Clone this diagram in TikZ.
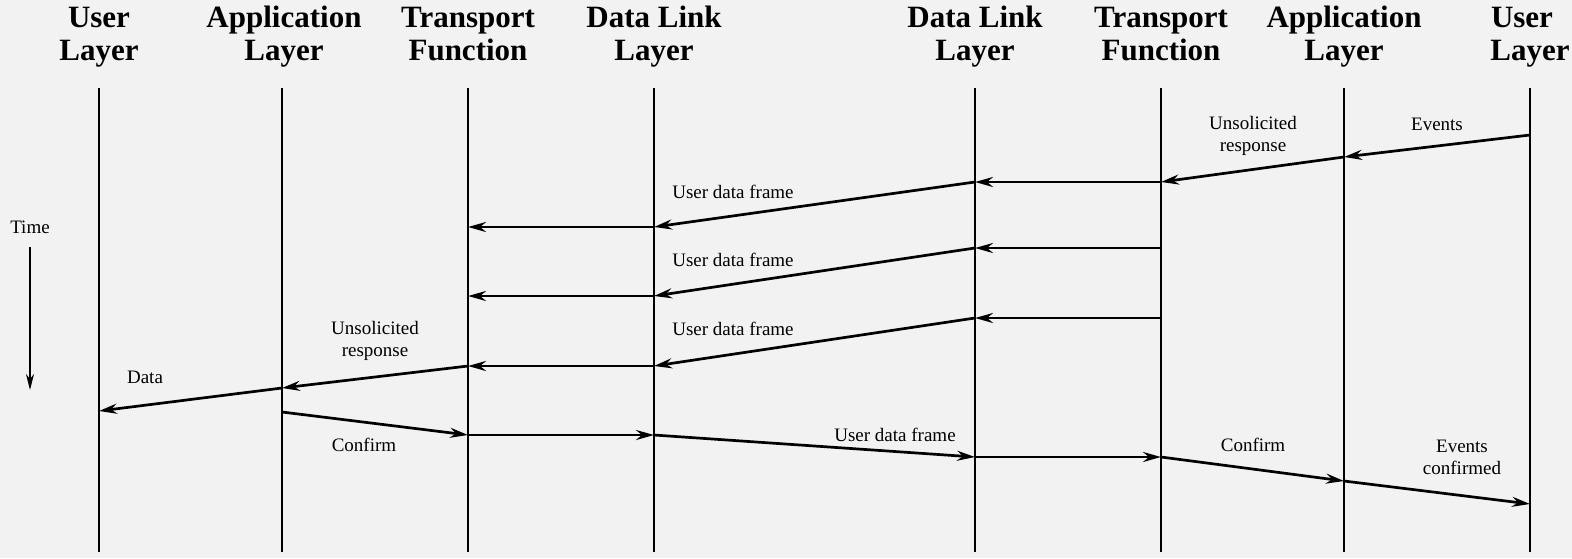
\documentclass[tikz,border=0pt]{standalone}
\usepackage{fontspec}
\setmainfont{Liberation Serif}
\usetikzlibrary{arrows.meta}
\definecolor{bg}{HTML}{F2F2F2}
\tikzset{
  hdr/.style={anchor=base, inner sep=0pt, font=\fontsize{15.5}{16}\selectfont\bfseries},
  lbl/.style={inner sep=0pt, align=center, font=\fontsize{9.5}{11}\selectfont},
  lane/.style={line width=1.35pt},
  msg/.style={line width=1.35pt, -{Stealth[length=9pt,width=5pt,inset=3pt]}},
  timearrow/.style={line width=0.9pt, -{Stealth[length=8pt,width=4pt,inset=2.5pt]}}
}
\begin{document}
\begin{tikzpicture}[x=0.5pt,y=-0.5pt]
\fill[bg] (0,0) rectangle (1572,558);
\clip (0,0) rectangle (1572,558);
\useasboundingbox (0,0) rectangle (1572,558);
% headers
\node[hdr] (h1a) at (99,27) {User};
\node[hdr] (h1b) at (99,60) {Layer};
\node[hdr] (h2a) at (284,27) {Application};
\node[hdr] (h2b) at (284,60) {Layer};
\node[hdr] (h3a) at (468,27) {Transport};
\node[hdr] (h3b) at (468,60) {Function};
\node[hdr] (h4a) at (654,27) {Data Link};
\node[hdr] (h4b) at (654,60) {Layer};
\node[hdr] (h5a) at (975,27) {Data Link};
\node[hdr] (h5b) at (975,60) {Layer};
\node[hdr] (h6a) at (1161,27) {Transport};
\node[hdr] (h6b) at (1161,60) {Function};
\node[hdr] (h7a) at (1344,27) {Application};
\node[hdr] (h7b) at (1344,60) {Layer};
\node[hdr] (h8a) at (1522,27) {User};
\node[hdr] (h8b) at (1530,60) {Layer};
% lanes
\foreach \n/\x in {u1/99,a1/282,t1/468,d1/654,d2/975,t2/1161,a2/1344,u2/1530}{
  \coordinate (\n top) at (\x,88);
  \coordinate (\n bot) at (\x,552);
  \draw[lane] (\n top) -- (\n bot);
}
% event points
\coordinate (p1) at (1530,135);
\coordinate (p2) at (1344,157);
\coordinate (p3) at (1161,182);
\coordinate (p4) at (975,182);
\coordinate (p5) at (654,227);
\coordinate (p6) at (468,227);
\coordinate (q1) at (1161,248);
\coordinate (q2) at (975,248);
\coordinate (q3) at (654,296);
\coordinate (q4) at (468,296);
\coordinate (r1) at (1161,318);
\coordinate (r2) at (975,318);
\coordinate (r3) at (654,366);
\coordinate (r4) at (468,366);
\coordinate (r5) at (282,388);
\coordinate (r6) at (99,411);
\coordinate (s1) at (282,412);
\coordinate (s2) at (468,435);
\coordinate (s3) at (654,435);
\coordinate (s4) at (975,457);
\coordinate (s5) at (1161,457);
\coordinate (s6) at (1344,481);
\coordinate (s7) at (1530,504);
% messages
\draw[msg] (p1) -- (p2);
\draw[msg] (p2) -- (p3);
\draw[msg] (p3) -- (p4);
\draw[msg] (p4) -- (p5);
\draw[msg] (p5) -- (p6);
\draw[msg] (q1) -- (q2);
\draw[msg] (q2) -- (q3);
\draw[msg] (q3) -- (q4);
\draw[msg] (r1) -- (r2);
\draw[msg] (r2) -- (r3);
\draw[msg] (r3) -- (r4);
\draw[msg] (r4) -- (r5);
\draw[msg] (r5) -- (r6);
\draw[msg] (s1) -- (s2);
\draw[msg] (s2) -- (s3);
\draw[msg] (s3) -- (s4);
\draw[msg] (s4) -- (s5);
\draw[msg] (s5) -- (s6);
\draw[msg] (s6) -- (s7);
% labels
\node[lbl] (l1) at (1437,124) {Events};
\node[lbl] (l2) at (1253,136) {Unsolicited\\response};
\node[lbl] (l3) at (733,192) {User data frame};
\node[lbl] (l4) at (733,260) {User data frame};
\node[lbl] (l5) at (733,329) {User data frame};
\node[lbl] (l6) at (375,341) {Unsolicited\\response};
\node[lbl] (l7) at (145,377) {Data};
\node[lbl] (l8) at (364,445) {Confirm};
\node[lbl] (l9) at (895,435) {User data frame};
\node[lbl] (l10) at (1253,445) {Confirm};
\node[lbl] (l11) at (1462,457) {Events\\confirmed};
% time
\node[lbl] (time) at (30,227) {Time};
\coordinate (ttop) at (30,247);
\coordinate (tbot) at (30,390);
\draw[timearrow] (ttop) -- (tbot);
\end{tikzpicture}
\end{document}
